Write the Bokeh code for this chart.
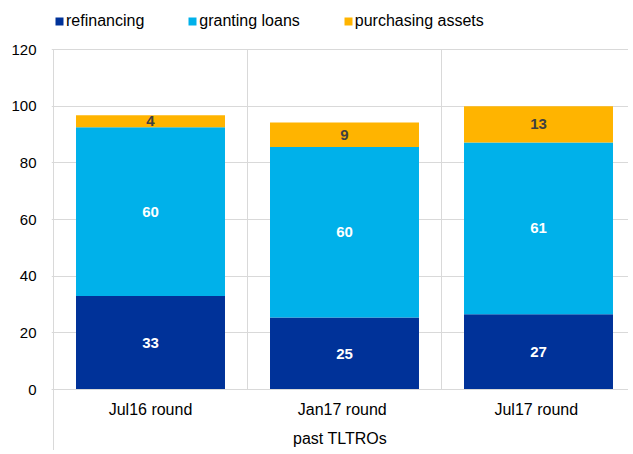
from bokeh.plotting import figure
from bokeh.models import Range1d, FixedTicker, Legend, LegendItem, ColumnDataSource
from bokeh.embed import file_html
from bokeh.resources import INLINE

# ---- data ----
categories = ["Jul16 round", "Jan17  round", "Jul17  round"]
refinancing = [33.0, 25.4, 26.6]
granting_loans = [59.6, 60.2, 60.6]
purchasing_assets = [4.2, 8.6, 12.8]
series_names = ["refinancing", "granting loans", "purchasing assets"]
y_ticks = [0, 20, 40, 60, 80, 100, 120]
x_title = "past TLTROs"

# ---- style ----
FONT = "Liberation Sans"
colors = ["#003299", "#00b1ea", "#ffb400"]
label_colors = ["white", "white", "#404040"]
grid_color = "#d9d9d9"

W, H = 628, 450
ML = 51
frame_w = W - ML
frame_h = H
cat_px = 194.0
y_px = 340.0 / 120.0
top_px = 49.0      # pixel row of the top tick inside the frame
zero_px = 389.0    # pixel row of zero inside the frame

x_start = -0.5 - 2.0 / cat_px
x_end = x_start + frame_w / cat_px
y_end = max(y_ticks) + top_px / y_px
y_start = -(frame_h - zero_px) / y_px

p = figure(width=W, height=H, output_backend="svg", toolbar_location=None,
           x_range=Range1d(x_start, x_end), y_range=Range1d(y_start, y_end),
           min_border_left=ML, min_border_right=0, min_border_top=0, min_border_bottom=0,
           outline_line_color=None, background_fill_color="white", border_fill_color="white")

keys = ["refinancing", "granting_loans", "purchasing_assets"]
xs = list(range(len(categories)))
src = ColumnDataSource(dict(x=xs, refinancing=refinancing, granting_loans=granting_loans,
                            purchasing_assets=purchasing_assets))
renderers = p.vbar_stack(keys, x="x", width=0.768, color=colors, line_color=None, source=src)

# category separators (inner) and the left boundary line that runs through the label area
bounds = [i + 0.5 for i in range(len(categories) - 1)]
p.segment(x0=bounds, x1=bounds, y0=[0] * len(bounds), y1=[max(y_ticks)] * len(bounds),
          line_color=grid_color, line_width=1)
p.segment(x0=[-0.5], x1=[-0.5], y0=[y_start], y1=[max(y_ticks)],
          line_color=grid_color, line_width=1)

# value labels
lx, ly, lt, lc = [], [], [], []
series = [refinancing, granting_loans, purchasing_assets]
for i in range(len(categories)):
    base = 0.0
    for s, col in zip(series, label_colors):
        v = s[i]
        lx.append(i)
        ly.append(base + v / 2.0)
        lt.append(str(int(round(v))))
        lc.append(col)
        base += v
p.text(x="x", y="y", text="t", text_color="c",
       source=ColumnDataSource(dict(x=lx, y=ly, t=lt, c=lc)),
       text_align="center", text_baseline="middle", text_font_size="15px",
       text_font_style="bold", text_font={"value": FONT})

# axes
p.xgrid.grid_line_color = None
p.ygrid.grid_line_color = grid_color
p.yaxis.ticker = FixedTicker(ticks=y_ticks)
p.yaxis.axis_line_color = None
p.yaxis.major_tick_line_color = None
p.yaxis.major_tick_out = 0
p.yaxis.major_tick_in = 0
p.yaxis.minor_tick_line_color = None
p.yaxis.major_label_standoff = 15
p.yaxis.major_label_text_font = FONT
p.yaxis.major_label_text_font_size = "15px"
p.yaxis.major_label_text_color = "black"

p.xaxis.fixed_location = 0
p.xaxis.ticker = FixedTicker(ticks=xs)
p.xaxis.major_label_overrides = {i: c for i, c in enumerate(categories)}
p.xaxis.axis_line_color = grid_color
p.xaxis.major_tick_line_color = None
p.xaxis.major_tick_out = 0
p.xaxis.major_tick_in = 0
p.xaxis.minor_tick_line_color = None
p.xaxis.major_label_standoff = 11
p.xaxis.major_label_text_font = FONT
p.xaxis.major_label_text_font_size = "16px"
p.xaxis.major_label_text_color = "black"
p.xaxis.axis_label = x_title
p.xaxis.axis_label_standoff = 9
p.xaxis.axis_label_text_font = FONT
p.xaxis.axis_label_text_font_size = "16px"
p.xaxis.axis_label_text_font_style = "normal"
p.xaxis.axis_label_text_color = "black"

legend = Legend(items=[LegendItem(label=n, renderers=[r]) for n, r in zip(series_names, renderers)],
                orientation="horizontal", location=(3, frame_h - 30), padding=0, margin=0,
                spacing=43, glyph_width=10, glyph_height=10, label_standoff=2,
                label_height=16, label_text_font=FONT, label_text_font_size="16px",
                label_text_color="black", border_line_color=None, background_fill_alpha=0)
p.add_layout(legend)

open("out.html", "w").write(file_html(p, INLINE))
